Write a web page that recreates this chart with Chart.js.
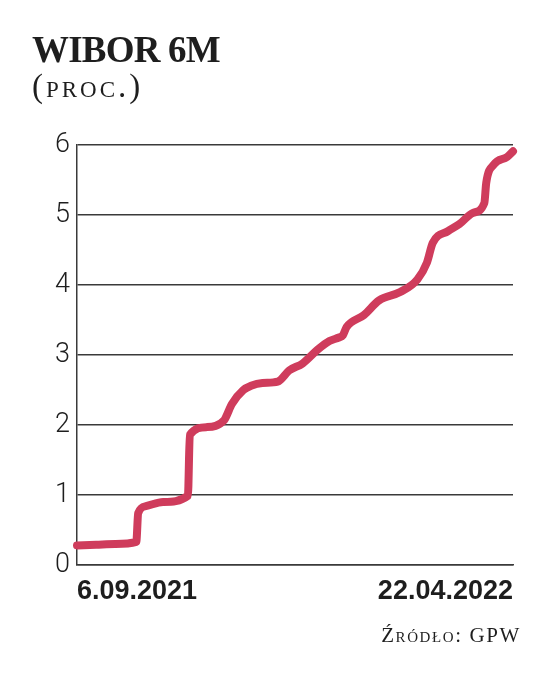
<!DOCTYPE html>
<html>
<head>
<meta charset="utf-8">
<script src="https://cdn.jsdelivr.net/npm/chart.js@4/dist/chart.umd.min.js"></script>
<style>
  html, body { margin: 0; padding: 0; background: #fff; }
  #wrap { position: relative; width: 536px; height: 679px; overflow: hidden; }
  #c { position: absolute; left: 0; top: 0; }
  .txt { position: absolute; color: #1e1e1e; white-space: nowrap; font-family: "Liberation Serif", serif; }
  #title { left: 32px; top: 31px; font-size: 37px; line-height: 1; font-weight: bold; letter-spacing: -0.8px; }
  #unit { left: 32px; top: 70px; font-size: 33px; line-height: 1; font-variant: small-caps; letter-spacing: 3px; }
  #src { right: 15px; top: 625px; font-size: 21px; line-height: 1; font-variant: small-caps; letter-spacing: 1.6px; }
</style>
</head>
<body>
<div id="wrap">
  <canvas id="c" width="536" height="679"></canvas>
  <div class="txt" id="title">WIBOR 6M</div>
  <div class="txt" id="unit">(proc.)</div>
  <div class="txt" id="src">Źródło: GPW</div>
</div>
<script>
// Days since 6.09.2021
const days = [0, 10, 20, 31, 32, 36, 45, 58, 59, 68, 77, 78, 81, 87, 91, 97, 105, 111, 118, 126, 132, 137, 139, 141, 150, 158, 169, 178, 183, 186, 194, 200, 207, 213, 214, 218, 225, 228];
// WIBOR 6M, %
const wibor = [0.28, 0.29, 0.30, 0.33, 0.74, 0.84, 0.90, 0.99, 1.86, 1.97, 2.07, 2.12, 2.30, 2.50, 2.56, 2.60, 2.62, 2.78, 2.88, 3.08, 3.20, 3.25, 3.28, 3.40, 3.57, 3.78, 3.90, 4.08, 4.32, 4.60, 4.77, 4.87, 5.03, 5.17, 5.46, 5.72, 5.83, 5.91];
const xTickLabels = ["6.09.2021", "22.04.2022"];
const xTickDays = [0, 228];
const yTicks = [0, 1, 2, 3, 4, 5, 6];

const points = days.map((d, i) => ({ x: d, y: wibor[i] }));

new Chart(document.getElementById('c'), {
  type: 'line',
  data: {
    datasets: [{
      data: points,
      borderColor: '#cf3c5c',
      borderWidth: 8,
      pointRadius: 0,
      cubicInterpolationMode: 'monotone',
      borderCapStyle: 'round',
      borderJoinStyle: 'round',
      clip: 10
    }]
  },
  options: {
    responsive: false,
    animation: false,
    layout: { padding: { left: 0, right: 23, top: 145, bottom: 0 } },
    plugins: { legend: { display: false }, tooltip: { enabled: false } },
    scales: {
      x: {
        type: 'linear',
        min: xTickDays[0],
        max: xTickDays[xTickDays.length - 1],
        afterBuildTicks: (s) => { s.ticks = xTickDays.map(v => ({ value: v })); },
        afterFit: (s) => { s.height = 114; },
        grid: { display: false, drawTicks: false },
        border: { display: true, color: '#3a3a3a', width: 1.5 },
        ticks: {
          align: 'inner',
          autoSkip: false,
          maxRotation: 0,
          padding: 10,
          color: '#1e1e1e',
          font: { family: '"Liberation Sans", Arial, sans-serif', size: 27, weight: 'bold' },
          callback: (v) => { const i = xTickDays.indexOf(v); return i >= 0 ? xTickLabels[i] : ''; }
        }
      },
      y: {
        min: yTicks[0],
        max: yTicks[yTicks.length - 1],
        afterBuildTicks: (s) => { s.ticks = yTicks.map(v => ({ value: v })); },
        afterFit: (s) => { s.width = 77; },
        grid: { color: '#3a3a3a', lineWidth: 1.5, drawTicks: false },
        border: { display: true, color: '#3a3a3a', width: 1.5 },
        ticks: {
          padding: 7,
          color: '#1e1e1e',
          font: { family: 'Roboto, "Liberation Sans", sans-serif', size: 27, weight: '300' }
        }
      }
    }
  }
});
</script>
</body>
</html>
